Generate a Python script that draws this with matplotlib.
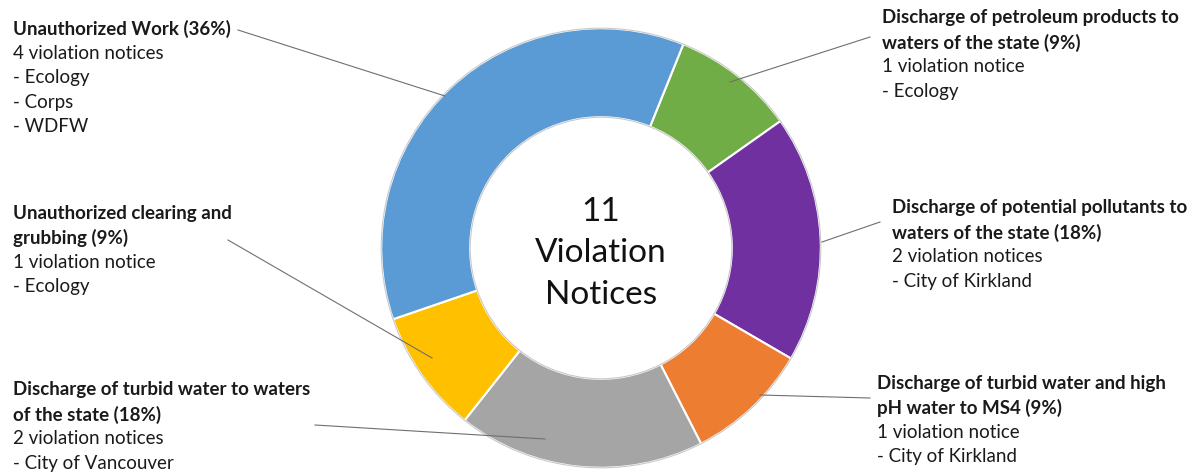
import matplotlib
matplotlib.use("Agg")
import matplotlib.pyplot as plt
from matplotlib.patches import Circle

# ---- data ----
titles = [
    "Discharge of petroleum products to\nwaters of the state",
    "Discharge of potential pollutants to\nwaters of the state",
    "Discharge of turbid water and high\npH water to MS4",
    "Discharge of turbid water to waters\nof the state",
    "Unauthorized clearing and\ngrubbing",
    "Unauthorized Work",
]
counts = [1, 2, 1, 2, 1, 4]
agencies = [
    ["Ecology"],
    ["City of Kirkland"],
    ["City of Kirkland"],
    ["City of Vancouver"],
    ["Ecology"],
    ["Ecology", "Corps", "WDFW"],
]
colors = ["#70AD47", "#7030A0", "#ED7D31", "#A5A5A5", "#FFC000", "#5B9BD5"]
center_text = "11\nViolation\nNotices"

# ---- layout (pixels) ----
W, H = 1194, 472
label_pos = [(882, 18), (892, 208), (877, 383), (13, 390), (13, 213), (13, 29)]
leader = [((870, 37), (730, 82)),
          ((880, 222), (822, 242)),
          ((870, 398), (760, 395)),
          ((315, 425), (545, 439)),
          ((228, 240), (432, 358)),
          ((238, 30), (445, 96))]
line_step = 24.5
cx, cy, R = 601, 248, 222
inner = 0.595

fig = plt.figure(figsize=(W / 100, H / 100), dpi=100)
fig.patch.set_facecolor("white")

# donut axes
axp = fig.add_axes([(cx - R) / W, (H - cy - R) / H, 2 * R / W, 2 * R / H])
total = sum(counts)
wedges, _ = axp.pie(counts, colors=colors, startangle=68, counterclock=False,
                    radius=1.0, wedgeprops=dict(width=1 - inner, edgecolor="white", linewidth=1.5))
axp.add_patch(Circle((0, 0), 1.0, fill=False, edgecolor="#c9c9c9", lw=0.8, zorder=5))
axp.add_patch(Circle((0, 0), inner, fill=False, edgecolor="#c9c9c9", lw=0.8, zorder=5))
axp.set_xlim(-1.01, 1.01)
axp.set_ylim(-1.01, 1.01)
axp.set_aspect("equal")
axp.axis("off")
axp.text(0, -0.025, center_text, ha="center", va="center", fontsize=24,
         family="Lato", color="#111111", linespacing=1.46)

# overlay axes in pixel coordinates
ax = fig.add_axes([0, 0, 1, 1], facecolor="none")
ax.set_xlim(0, W)
ax.set_ylim(H, 0)
ax.axis("off")

fs = 13.5
for i, t in enumerate(titles):
    n = counts[i]
    pct = round(n / total * 100)
    bold_lines = (t + f" ({pct}%)").split("\n")
    reg_lines = [f"{n} violation notice{'s' if n > 1 else ''}"] + ["- " + a for a in agencies[i]]
    x, y = label_pos[i]
    for j, ln in enumerate(bold_lines):
        ax.text(x, y + j * line_step, ln, ha="left", va="center", fontsize=fs,
                fontweight="bold", family="Lato", color="#1a1a1a")
    for k, ln in enumerate(reg_lines):
        ax.text(x, y + (len(bold_lines) + k) * line_step, ln, ha="left", va="center",
                fontsize=fs, family="Lato", color="#1a1a1a")
    (x0, y0), (x1, y1) = leader[i]
    ax.plot([x0, x1], [y0, y1], color="#6f6f6f", lw=0.8)

fig.savefig("out.png", dpi=100, facecolor="white")
